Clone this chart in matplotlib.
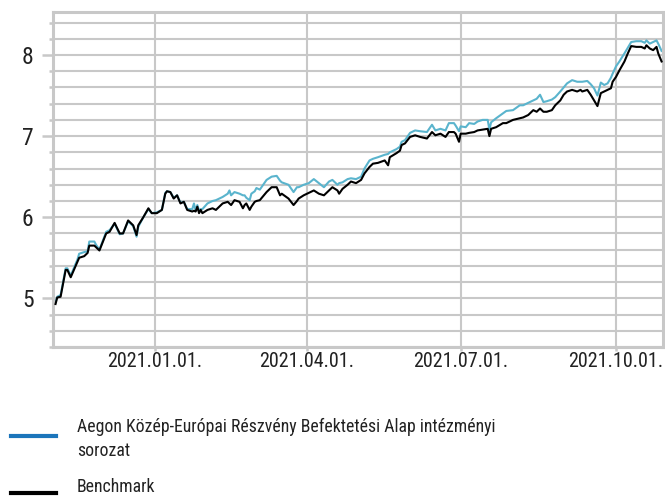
import matplotlib
matplotlib.use("Agg")
import matplotlib.pyplot as plt
import matplotlib.dates as mdates
from matplotlib.lines import Line2D
from matplotlib import font_manager as fm
from matplotlib.ticker import MultipleLocator, FixedLocator
import pandas as pd

# ---------------- data ----------------
dates = [
    "2020-11-03", "2020-11-04", "2020-11-06", "2020-11-09", "2020-11-10", "2020-11-12",
    "2020-11-16", "2020-11-17", "2020-11-20", "2020-11-22", "2020-11-23", "2020-11-26",
    "2020-11-27", "2020-11-29", "2020-12-03", "2020-12-05", "2020-12-08", "2020-12-11",
    "2020-12-13", "2020-12-16", "2020-12-19", "2020-12-21", "2020-12-22", "2020-12-25",
    "2020-12-28", "2020-12-30", "2021-01-02", "2021-01-05", "2021-01-07", "2021-01-08",
    "2021-01-10", "2021-01-12", "2021-01-14", "2021-01-16", "2021-01-18", "2021-01-20",
    "2021-01-23", "2021-01-24", "2021-01-25", "2021-01-26", "2021-01-27", "2021-01-28",
    "2021-01-29", "2021-02-01", "2021-02-04", "2021-02-06", "2021-02-10", "2021-02-13",
    "2021-02-14", "2021-02-15", "2021-02-17", "2021-02-20", "2021-02-22", "2021-02-23",
    "2021-02-24", "2021-02-26", "2021-02-27", "2021-03-01", "2021-03-02", "2021-03-04",
    "2021-03-08", "2021-03-11", "2021-03-14", "2021-03-16",
    "2021-03-17", "2021-03-21", "2021-03-24", "2021-03-26", "2021-03-27", "2021-03-30",
    "2021-04-02", "2021-04-05", "2021-04-08", "2021-04-11", "2021-04-14", "2021-04-16",
    "2021-04-19", "2021-04-20", "2021-04-22", "2021-04-25", "2021-04-27", "2021-04-30",
    "2021-05-03", "2021-05-05", "2021-05-08", "2021-05-10", "2021-05-13", "2021-05-17",
    "2021-05-19", "2021-05-20", "2021-05-24", "2021-05-26",
    "2021-05-27", "2021-05-29", "2021-06-01", "2021-06-04", "2021-06-07", "2021-06-11",
    "2021-06-14", "2021-06-16", "2021-06-19", "2021-06-22", "2021-06-24", "2021-06-27",
    "2021-06-28", "2021-06-30", "2021-07-01", "2021-07-04", "2021-07-06", "2021-07-09",
    "2021-07-11", "2021-07-14", "2021-07-17", "2021-07-18", "2021-07-19", "2021-07-22",
    "2021-07-26", "2021-07-28", "2021-08-01", "2021-08-05",
    "2021-08-07", "2021-08-10", "2021-08-13", "2021-08-15", "2021-08-17", "2021-08-19",
    "2021-08-21", "2021-08-24", "2021-08-26", "2021-08-29", "2021-08-31", "2021-09-02",
    "2021-09-05", "2021-09-08", "2021-09-10", "2021-09-11", "2021-09-14", "2021-09-16",
    "2021-09-18", "2021-09-20", "2021-09-22", "2021-09-24", "2021-09-26", "2021-09-28",
    "2021-09-29", "2021-10-01", "2021-10-03", "2021-10-06", "2021-10-08", "2021-10-10",
    "2021-10-13", "2021-10-16", "2021-10-18", "2021-10-19", "2021-10-21", "2021-10-23",
    "2021-10-25", "2021-10-26", "2021-10-28",
]

fund = [
    4.95, 5.02, 5.04, 5.37, 5.37, 5.28, 5.48, 5.55, 5.57, 5.58, 5.70, 5.70, 5.66, 5.60,
    5.82, 5.84, 5.92, 5.79, 5.80, 5.95, 5.89, 5.76, 5.88, 6.00, 6.10, 6.05, 6.06, 6.09,
    6.30, 6.32,
    6.31, 6.24, 6.27, 6.18, 6.19, 6.10, 6.10, 6.17, 6.08, 6.15, 6.08, 6.10, 6.10,
    6.17, 6.20, 6.21, 6.25, 6.29, 6.33, 6.27, 6.31, 6.29, 6.27, 6.27, 6.24, 6.21, 6.29,
    6.32, 6.36, 6.34, 6.46, 6.50, 6.51, 6.45,
    6.43, 6.40, 6.31, 6.37, 6.37, 6.40, 6.42, 6.47, 6.42, 6.37, 6.44, 6.46, 6.40, 6.42,
    6.43, 6.47, 6.48, 6.47, 6.50, 6.60, 6.70, 6.72, 6.74, 6.77, 6.78, 6.80, 6.84, 6.87,
    6.93, 6.95, 7.04, 7.07, 7.06, 7.05, 7.14, 7.07, 7.09, 7.07, 7.16, 7.16, 7.13, 7.06,
    7.12, 7.11, 7.16, 7.15, 7.18, 7.20, 7.20, 7.08, 7.17, 7.22, 7.28, 7.31, 7.32, 7.38,
    7.38, 7.41, 7.44, 7.46, 7.51, 7.42, 7.43, 7.45, 7.48, 7.55, 7.60,
    7.65, 7.69, 7.67, 7.67, 7.67, 7.68, 7.64, 7.59, 7.50, 7.66, 7.63, 7.65, 7.72, 7.77,
    7.86, 7.92, 8.02, 8.09, 8.16, 8.17, 8.17, 8.15, 8.18, 8.14, 8.16, 8.18, 8.14, 8.05,
]

benchmark = [
    4.93, 5.01, 5.02, 5.35, 5.35, 5.26, 5.45, 5.50, 5.52, 5.56, 5.65, 5.65, 5.63, 5.59,
    5.80, 5.82, 5.93, 5.80, 5.80, 5.96, 5.90, 5.78, 5.90, 6.00, 6.11, 6.05, 6.05, 6.09,
    6.29, 6.32,
    6.31, 6.23, 6.27, 6.17, 6.19, 6.09, 6.07, 6.08, 6.07, 6.13, 6.05, 6.09, 6.05,
    6.09, 6.11, 6.09, 6.17, 6.19, 6.17, 6.15, 6.21, 6.19, 6.11, 6.15, 6.17, 6.09, 6.13,
    6.19, 6.20, 6.21, 6.31, 6.37, 6.37, 6.27,
    6.29, 6.23, 6.15, 6.20, 6.23, 6.27, 6.30, 6.33, 6.29, 6.27, 6.33, 6.37, 6.33, 6.29,
    6.35, 6.40, 6.44, 6.42, 6.46, 6.54, 6.62, 6.66, 6.67, 6.70, 6.64, 6.74, 6.79, 6.82,
    6.89, 6.91, 6.99, 7.01, 6.99, 6.97, 7.05, 7.01, 7.03, 6.99, 7.05, 7.05, 7.03, 6.93,
    7.03, 7.03, 7.04, 7.05, 7.07, 7.08, 7.09, 7.00, 7.09, 7.11, 7.16, 7.16, 7.20, 7.22,
    7.23, 7.26, 7.32, 7.30, 7.34, 7.30, 7.30, 7.32, 7.38, 7.44, 7.51,
    7.55, 7.57, 7.55, 7.57, 7.55, 7.57, 7.51, 7.44, 7.37, 7.53, 7.55, 7.57, 7.59, 7.67,
    7.73, 7.81, 7.92, 8.02, 8.11, 8.10, 8.10, 8.08, 8.12, 8.08, 8.06, 8.10, 8.02, 7.92,
]

series_labels = ["Aegon Közép-Európai Részvény Befektetési Alap intézményi\nsorozat",
                 "Benchmark"]
x_tick_dates = ["2021-01-01", "2021-04-01", "2021-07-01", "2021-10-01"]
y_tick_values = [5, 6, 7, 8]

# ---------------- style ----------------
names = {f.name for f in fm.fontManager.ttflist}
family = "DejaVu Sans"
for cand in ["Roboto Condensed", "Liberation Sans Narrow", "DejaVu Sans Condensed",
             "Open Sans Condensed", "Noto Sans", "Liberation Sans"]:
    if cand in names:
        family = cand
        break
plt.rcParams["font.family"] = [family, "DejaVu Sans"]

GRID = "#c8c8c8"
FUND_C = "#5ab4cd"
FUND_LEG = "#1b75bb"
TEXT_C = "#222222"

x = pd.to_datetime(dates)

fig = plt.figure(figsize=(6.65, 4.98), dpi=100)
ax = fig.add_axes([53 / 665, 1 - 347 / 498, (663 - 53) / 665, (347 - 12) / 498])

ax.plot(x, benchmark, color="black", lw=1.5, zorder=3)
ax.plot(x, fund, color=FUND_C, lw=1.5, zorder=2)

ax.set_xlim(pd.Timestamp("2020-11-01 12:00"), pd.Timestamp("2021-10-28 20:00"))
ax.set_ylim(4.4, 8.53)

ax.xaxis.set_major_locator(FixedLocator(mdates.date2num(pd.to_datetime(x_tick_dates))))
ax.xaxis.set_major_formatter(mdates.DateFormatter("%Y.%m.%d."))
ax.yaxis.set_major_locator(FixedLocator(y_tick_values))
ax.yaxis.set_minor_locator(MultipleLocator(0.2))

ax.grid(True, which="both", axis="y", color=GRID, lw=1.5, zorder=0)
ax.grid(True, which="major", axis="x", color=GRID, lw=1.5, zorder=0)
ax.set_axisbelow(True)

for s in ax.spines.values():
    s.set_color(GRID)
    s.set_linewidth(2.2)

ax.tick_params(axis="y", which="major", length=8, width=1.8, color=GRID,
               labelsize=17, labelcolor=TEXT_C, pad=6)
ax.tick_params(axis="y", which="minor", length=3, width=1.8, color=GRID)
ax.tick_params(axis="x", which="major", length=3, width=1.8, color=GRID,
               labelsize=14.5, labelcolor=TEXT_C, pad=0.5)

# legend (drawn beneath the axes)
fig.add_artist(Line2D([11 / 665, 56 / 665], [1 - 436 / 498] * 2, color=FUND_LEG, lw=3,
                      transform=fig.transFigure))
fig.add_artist(Line2D([11 / 665, 56 / 665], [1 - 493 / 498] * 2, color="black", lw=3,
                      transform=fig.transFigure))
fig.text(77 / 665, 1 - 418 / 498, series_labels[0], fontsize=12.8, color=TEXT_C,
         va="top", ha="left", linespacing=1.45)
fig.text(77 / 665, 1 - 478 / 498, series_labels[1], fontsize=12.8, color=TEXT_C,
         va="top", ha="left")

fig.savefig("out.png", dpi=100)
